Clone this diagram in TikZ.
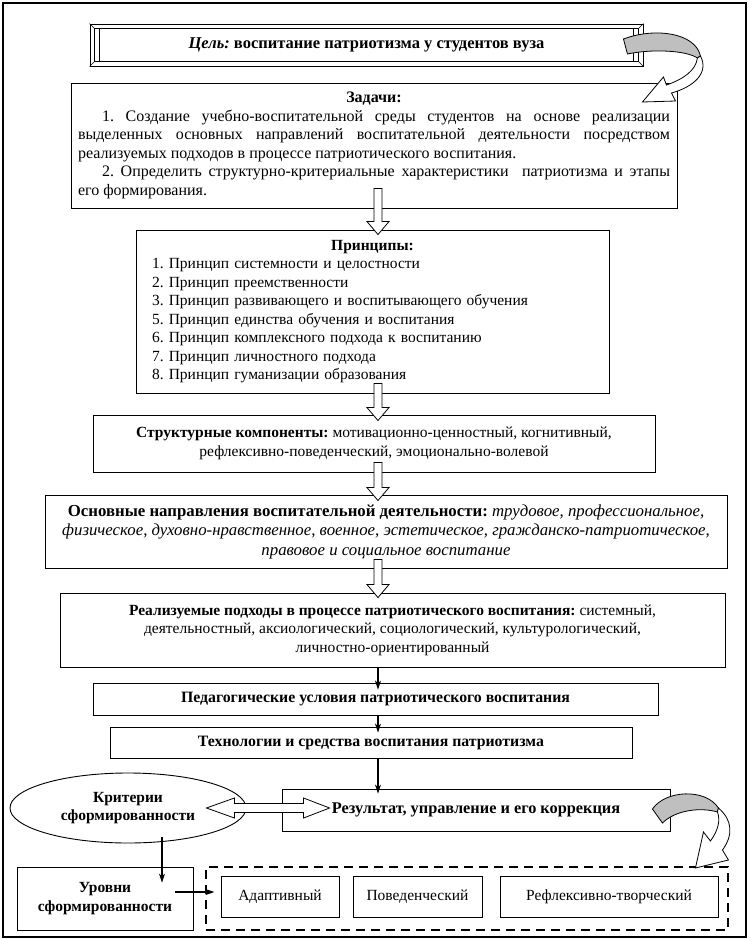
\documentclass[tikz,border=0pt]{standalone}
\usepackage{fontspec}
\setmainfont{Liberation Serif}
\frenchspacing
\usetikzlibrary{arrows.meta, shapes.geometric, calc}
\newcommand\blockarrow[2]{ % полая стрелка вниз: начало ствола, острие
    \filldraw[fill=white, draw=black, line width=0.8pt] let \p1=(#1), \p2=(#2) in
        (\x1-4pt,\y1) -- (\x1+4pt,\y1) -- (\x1+4pt,\y2+13pt) -- (\x1+11pt,\y2+13pt)
        -- (\x1,\y2) -- (\x1-11pt,\y2+13pt) -- (\x1-4pt,\y2+13pt) -- cycle;
}
\newcommand\dblarrow[2]{ % двойная полая стрелка: левое острие, правое острие
    \filldraw[fill=white, draw=black, line width=0.8pt] let \p1=(#1), \p2=(#2) in
        (\x1,\y1) -- (\x1+28pt,\y1+10pt) -- (\x1+28pt,\y1+4.5pt) -- (\x2-26pt,\y1+4.5pt)
        -- (\x2-26pt,\y1+10pt) -- (\x2,\y1) -- (\x2-26pt,\y1-10pt) -- (\x2-26pt,\y1-4.5pt)
        -- (\x1+28pt,\y1-4.5pt) -- (\x1+28pt,\y1-10pt) -- cycle;
}
\begin{document}
\begin{tikzpicture}[x=1pt, y=-1pt,
        box/.style={draw, line width=0.9pt, inner sep=0pt, align=center,
            font=\fontsize{15.5pt}{18.5pt}\selectfont},
        bbox/.style={box, font=\fontsize{15.8pt}{18.5pt}\selectfont\bfseries},
        arr/.style={line width=1.3pt, -{Stealth[length=9pt, width=6pt]}},
        ribbon/.style={fill=black!25, draw=black, line width=0.8pt},
        shell/.style={fill=white, draw=black, line width=0.8pt}]
        \useasboundingbox (0,0) rectangle (750,940);
        \draw[line width=1.2pt] (3,3) rectangle (746,937);
        \coordinate (axis) at (378,0);
        % цель в рамке
        \node[bbox, font=\fontsize{16.5pt}{18.5pt}\selectfont\bfseries, minimum width=553pt, minimum height=42pt] (goal) at (366.5,45)
            {\textit{Цель:} воспитание патриотизма у студентов вуза};
        \draw[line width=0.6pt] ($(goal.north west)+(5,5)$) rectangle ($(goal.south east)+(-5,-5)$);
        \draw[line width=0.6pt] (goal.north west) -- ++(5,5) (goal.north east) -- ++(-5,5)
            (goal.south west) -- ++(5,-5) (goal.south east) -- ++(-5,-5);
        \draw[line width=0.6pt] ($(goal.north west)+(10,5)$) -- ($(goal.south west)+(10,-5)$);
        \draw[line width=0.6pt] ($(goal.north east)+(-10,5)$) -- ($(goal.south east)+(-10,-5)$);
        % блоки
        \node[box, font=\fontsize{16pt}{18.5pt}\selectfont, align=justify, text width=592pt, inner xsep=7pt, minimum height=125pt] (tasks) at (374,145.5) {%
            \centerline{\textbf{Задачи:}}
            \hspace*{24pt}1. Создание учебно-воспитательной среды студентов на основе реализации\linebreak
            выделенных основных направлений воспитательной деятельности посредством\linebreak
            реализуемых подходов в процессе патриотического воспитания.\par
            \hspace*{24pt}2. Определить структурно-критериальные характеристики \ патриотизма и этапы\linebreak
            его формирования.};
        \node[box, align=left, text width=441pt, inner xsep=16pt, minimum height=163pt] (princ) at (372.5,311.5) {%
            {\centering\textbf{Принципы:}\par}
            1. Принцип системности и целостности\\
            2. Принцип преемственности\\
            3. Принцип развивающего и воспитывающего обучения\\
            5. Принцип единства обучения и воспитания\\
            6. Принцип комплексного подхода к воспитанию\\
            7. Принцип личностного подхода\\
            8. Принцип гуманизации образования};
        \node[box, minimum width=562pt, minimum height=57pt] (struct) at (374,443.5)
            {\textbf{Структурные компоненты:} мотивационно-ценностный, когнитивный,\\
            рефлексивно-поведенческий, эмоционально-волевой};
        \node[box, font=\fontsize{16.8pt}{19.5pt}\selectfont, minimum width=682pt, minimum height=73pt] (dirs) at (386,531.5)
            {\textbf{Основные направления воспитательной деятельности:} \textit{трудовое, профессиональное,}\\
            \textit{физическое, духовно-нравственное, военное, эстетическое, гражданско-патриотическое,}\\
            \textit{правовое и социальное воспитание}};
        \node[box, minimum width=665pt, minimum height=74pt] (appr) at (392.5,630)
            {\textbf{Реализуемые подходы в процессе патриотического воспитания:} системный,\\
            деятельностный, аксиологический, социологический, культурологический,\\
            личностно-ориентированный};
        \node[bbox, minimum width=565pt, minimum height=32pt] (cond) at (375.5,699)
            {Педагогические условия патриотического воспитания};
        \node[bbox, minimum width=522pt, minimum height=31pt] (tech) at (371,742.5)
            {Технологии и средства воспитания патриотизма};
        \node[box, ellipse, font=\fontsize{15.5pt}{18.5pt}\selectfont\bfseries, minimum width=236pt, minimum height=70pt] (crit) at (128,808)
            {Критерии\\сформированности};
        \node[bbox, font=\fontsize{16.3pt}{18.5pt}\selectfont\bfseries, minimum width=388pt, minimum height=42pt] (result) at (476,810)
            {Результат, управление и его коррекция};
        \node[box, font=\fontsize{15.5pt}{18.5pt}\selectfont\bfseries, minimum width=176pt, minimum height=63pt] (levels) at (105,898.5)
            {Уровни\\сформированности};
        \node[draw, line width=1.1pt, dash pattern=on 9pt off 6pt, minimum width=522pt, minimum height=63pt] (group) at (467,898.5) {};
        \node[box, minimum width=118pt, minimum height=41pt] (adapt) at (280,896.5) {Адаптивный};
        \node[box, minimum width=129pt, minimum height=41pt] (behav) at (417.5,896.5) {Поведенческий};
        \node[box, minimum width=218pt, minimum height=41pt] (refl) at (609,896.5) {Рефлексивно-творческий};
        % полые стрелки
        \blockarrow{$(axis |- tasks.south)+(0,-20)$}{$(axis |- princ.north)+(0,5)$}
        \blockarrow{$(axis |- princ.south)+(0,-10)$}{$(axis |- struct.north)+(0,6)$}
        \blockarrow{$(axis |- struct.south)+(0,-10)$}{$(axis |- dirs.north)+(0,6)$}
        \blockarrow{$(axis |- dirs.south)+(0,-9)$}{$(axis |- appr.north)+(0,5)$}
        \dblarrow{$(crit.east)+(-40,0)$}{$(result.west)+(48,0)$}
        % сплошные стрелки
        \draw[arr] (axis |- appr.south) -- ($(axis |- cond.north)+(0,7)$);
        \draw[arr] (axis |- cond.south) -- ($(axis |- tech.north)+(0,6)$);
        \draw[arr] (axis |- tech.south) -- ($(axis |- result.north)+(0,5)$);
        \draw[arr] ($(crit.south)+(34,-6)$) -- ($(levels.north)+(57,16)$);
        \draw[arr] ($(levels.east)+(-18,-6.5)$) -- ($(group.west)+(9,-6.5)$);
        % изогнутые стрелки
        \begin{scope}[shift={(goal.east)}]
            \filldraw[ribbon] (-20,-6) .. controls (12,-18) and (52,-12) .. (57,11) -- (54,13)
                .. controls (42,5) and (7,4) .. (-16,9) -- cycle;
            \filldraw[shell] (57,11) .. controls (66,28) and (50,42) .. (28,48) -- (32,56) -- (-1,57)
                -- (20,32) -- (23,40) .. controls (40,34) and (52,26) .. (54,13) -- cycle;
        \end{scope}
        \begin{scope}[shift={(result.east)}]
            \filldraw[ribbon] (-18,-1) .. controls (-5,-20) and (35,-22) .. (48,-2) -- (47,2)
                .. controls (30,-3) and (5,0) .. (-8,13) -- cycle;
            \filldraw[shell] (48,-2) .. controls (62,10) and (63,25) .. (52,40) -- (58,50) -- (25,58)
                -- (33,22) -- (40,31) .. controls (48,20) and (50,10) .. (47,2) -- cycle;
        \end{scope}
    \end{tikzpicture}
\end{document}
